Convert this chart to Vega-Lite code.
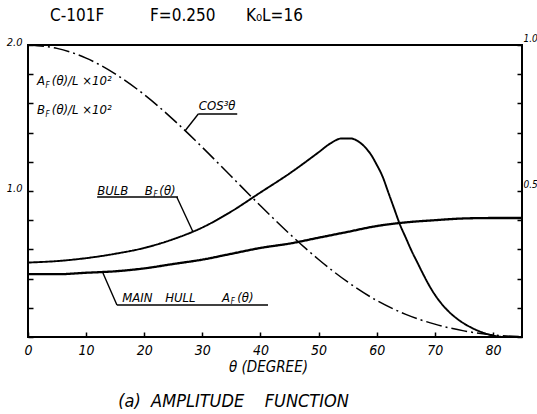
{
  "$schema": "https://vega.github.io/schema/vega-lite/v6.json",
  "width": 494,
  "height": 292,
  "autosize": {"type": "none"},
  "padding": {"left": 28, "top": 45, "right": 15, "bottom": 77},
  "background": "white",
  "config": {
    "view": {"stroke": "black", "strokeWidth": 2},
    "font": "DejaVu Sans Condensed"
  },
  "title": {
    "text": "(a)\u00a0\u00a0AMPLITUDE\u00a0\u00a0\u00a0\u00a0FUNCTION",
    "orient": "bottom",
    "anchor": "start",
    "dx": 112,
    "offset": 19,
    "font": "DejaVu Sans Condensed",
    "fontSize": 18,
    "fontStyle": "italic",
    "fontWeight": "normal",
    "color": "black"
  },
  "datasets": {
    "curves": [
      {"series": "cos", "theta": 0, "value": 2.0},
      {"series": "cos", "theta": 5, "value": 1.977},
      {"series": "cos", "theta": 10, "value": 1.91},
      {"series": "cos", "theta": 15, "value": 1.802},
      {"series": "cos", "theta": 20, "value": 1.66},
      {"series": "cos", "theta": 25, "value": 1.489},
      {"series": "cos", "theta": 30, "value": 1.299},
      {"series": "cos", "theta": 35, "value": 1.099},
      {"series": "cos", "theta": 40, "value": 0.899},
      {"series": "cos", "theta": 45, "value": 0.707},
      {"series": "cos", "theta": 50, "value": 0.531},
      {"series": "cos", "theta": 55, "value": 0.377},
      {"series": "cos", "theta": 60, "value": 0.25},
      {"series": "cos", "theta": 65, "value": 0.155},
      {"series": "cos", "theta": 70, "value": 0.088},
      {"series": "cos", "theta": 75, "value": 0.042},
      {"series": "cos", "theta": 80, "value": 0.014},
      {"series": "cos", "theta": 85, "value": 0.002},
      {"series": "bulb", "theta": 0, "value": 0.51},
      {"series": "bulb", "theta": 5, "value": 0.52},
      {"series": "bulb", "theta": 10, "value": 0.54},
      {"series": "bulb", "theta": 15, "value": 0.57},
      {"series": "bulb", "theta": 20, "value": 0.61},
      {"series": "bulb", "theta": 25, "value": 0.67},
      {"series": "bulb", "theta": 30, "value": 0.75},
      {"series": "bulb", "theta": 35, "value": 0.86},
      {"series": "bulb", "theta": 40, "value": 0.99},
      {"series": "bulb", "theta": 45, "value": 1.12},
      {"series": "bulb", "theta": 50, "value": 1.265},
      {"series": "bulb", "theta": 52, "value": 1.325},
      {"series": "bulb", "theta": 54, "value": 1.36},
      {"series": "bulb", "theta": 55.5, "value": 1.36},
      {"series": "bulb", "theta": 57, "value": 1.335},
      {"series": "bulb", "theta": 58, "value": 1.3},
      {"series": "bulb", "theta": 59, "value": 1.25},
      {"series": "bulb", "theta": 60, "value": 1.18},
      {"series": "bulb", "theta": 61, "value": 1.1},
      {"series": "bulb", "theta": 62, "value": 0.99},
      {"series": "bulb", "theta": 63, "value": 0.88},
      {"series": "bulb", "theta": 64, "value": 0.77},
      {"series": "bulb", "theta": 65, "value": 0.68},
      {"series": "bulb", "theta": 66, "value": 0.59},
      {"series": "bulb", "theta": 67, "value": 0.51},
      {"series": "bulb", "theta": 68, "value": 0.43},
      {"series": "bulb", "theta": 69, "value": 0.355},
      {"series": "bulb", "theta": 70, "value": 0.29},
      {"series": "bulb", "theta": 72, "value": 0.19},
      {"series": "bulb", "theta": 74, "value": 0.12},
      {"series": "bulb", "theta": 76, "value": 0.07},
      {"series": "bulb", "theta": 78, "value": 0.034},
      {"series": "bulb", "theta": 80, "value": 0.01},
      {"series": "bulb", "theta": 82, "value": 0.0},
      {"series": "bulb", "theta": 85, "value": 0.0},
      {"series": "hull", "theta": 0, "value": 0.43},
      {"series": "hull", "theta": 5, "value": 0.43},
      {"series": "hull", "theta": 10, "value": 0.44},
      {"series": "hull", "theta": 15, "value": 0.45},
      {"series": "hull", "theta": 20, "value": 0.47},
      {"series": "hull", "theta": 25, "value": 0.5},
      {"series": "hull", "theta": 30, "value": 0.53},
      {"series": "hull", "theta": 35, "value": 0.57},
      {"series": "hull", "theta": 40, "value": 0.61},
      {"series": "hull", "theta": 45, "value": 0.64},
      {"series": "hull", "theta": 50, "value": 0.68},
      {"series": "hull", "theta": 55, "value": 0.72},
      {"series": "hull", "theta": 60, "value": 0.76},
      {"series": "hull", "theta": 65, "value": 0.785},
      {"series": "hull", "theta": 70, "value": 0.8},
      {"series": "hull", "theta": 75, "value": 0.812},
      {"series": "hull", "theta": 80, "value": 0.815},
      {"series": "hull", "theta": 85, "value": 0.815}
    ],
    "leaders": [
      {"x": 29.3, "y": 1.527, "x2": 36.0, "y2": 1.527},
      {"x": 29.3, "y": 1.527, "x2": 27.0, "y2": 1.411},
      {"x": 11.9, "y": 0.959, "x2": 25.8, "y2": 0.959},
      {"x": 25.6, "y": 0.959, "x2": 28.4, "y2": 0.719},
      {"x": 12.9, "y": 0.438, "x2": 15.3, "y2": 0.219},
      {"x": 15.3, "y": 0.219, "x2": 41.3, "y2": 0.219}
    ],
    "labels": [
      {"x": 1.55, "y": 1.753, "text": "A", "role": "main"},
      {"x": 3.0, "y": 1.72, "text": "F", "role": "sub"},
      {"x": 4.1, "y": 1.753, "text": "(θ)/L ×10²", "role": "main"},
      {"x": 1.55, "y": 1.555, "text": "B", "role": "main"},
      {"x": 3.0, "y": 1.522, "text": "F", "role": "sub"},
      {"x": 4.1, "y": 1.555, "text": "(θ)/L ×10²", "role": "main"},
      {"x": 29.4, "y": 1.585, "text": "COS³θ", "role": "main"},
      {"x": 11.9, "y": 1.0, "text": "BULB", "role": "main"},
      {"x": 20.1, "y": 1.0, "text": "B", "role": "main"},
      {"x": 21.6, "y": 0.97, "text": "F", "role": "sub"},
      {"x": 22.6, "y": 1.0, "text": "(θ)", "role": "main"},
      {"x": 16.2, "y": 0.27, "text": "MAIN", "role": "main"},
      {"x": 23.6, "y": 0.27, "text": "HULL", "role": "main"},
      {"x": 33.4, "y": 0.27, "text": "A", "role": "main"},
      {"x": 34.9, "y": 0.24, "text": "F", "role": "sub"},
      {"x": 36.0, "y": 0.27, "text": "(θ)", "role": "main"}
    ],
    "heads": [
      {"x": 3.79, "y": 2.199, "text": "C-101F"},
      {"x": 21.0, "y": 2.199, "text": "F=0.250"},
      {"x": 37.5, "y": 2.199, "text": "K₀L=16"}
    ]
  },
  "layer": [
    {
      "data": {"name": "curves"},
      "mark": {"type": "line", "interpolate": "monotone", "color": "black"},
      "encoding": {
        "x": {
          "field": "theta",
          "type": "quantitative",
          "scale": {"domain": [0, 85], "nice": false, "zero": false},
          "axis": {
            "values": [0, 10, 20, 30, 40, 50, 60, 70, 80],
            "tickSize": -5,
            "tickColor": "black",
            "tickWidth": 1.5,
            "domain": false,
            "grid": false,
            "labelFont": "DejaVu Sans Condensed",
            "labelFontStyle": "italic",
            "labelFontSize": 14,
            "labelColor": "black",
            "labelPadding": 11,
            "labelFlush": false,
            "title": "θ (DEGREE)",
            "titleFont": "DejaVu Sans Condensed",
            "titleFontSize": 15,
            "titleFontWeight": "normal",
            "titleFontStyle": "italic",
            "titleColor": "black",
            "titleX": 240,
            "titlePadding": 2
          }
        },
        "y": {
          "field": "value",
          "type": "quantitative",
          "scale": {"domain": [0, 2], "nice": false},
          "axis": {
            "orient": "left",
            "values": [0, 0.2, 0.4, 0.6, 0.8, 1.0, 1.2, 1.4, 1.6, 1.8, 2.0],
            "labelExpr": "datum.value == 1 ? '1.0' : datum.value == 2 ? '2.0' : ''",
            "tickSize": -5,
            "tickColor": "black",
            "tickWidth": 1.5,
            "domain": false,
            "grid": false,
            "labelFont": "DejaVu Sans Condensed",
            "labelFontStyle": "italic",
            "labelFontSize": 11,
            "labelColor": "black",
            "labelPadding": 11,
            "labelOffset": -3,
            "labelFlush": false,
            "title": null
          }
        },
        "detail": {"field": "series"},
        "strokeDash": {
          "field": "series",
          "type": "nominal",
          "scale": {"domain": ["cos", "bulb", "hull"], "range": [[16, 4, 2, 4], [1, 0], [1, 0]]},
          "legend": null
        },
        "strokeWidth": {
          "field": "series",
          "type": "nominal",
          "scale": {"domain": ["cos", "bulb", "hull"], "range": [1.5, 2.3, 1.8]},
          "legend": null
        }
      }
    },
    {
      "data": {"name": "leaders"},
      "mark": {"type": "rule", "color": "black", "strokeWidth": 1.4},
      "encoding": {
        "x": {"field": "x", "type": "quantitative", "scale": {"domain": [0, 85], "nice": false, "zero": false}},
        "x2": {"field": "x2"},
        "y": {
          "field": "y",
          "type": "quantitative",
          "scale": {"domain": [0, 2], "nice": false},
          "axis": {
            "orient": "right",
            "values": [0, 0.2, 0.4, 0.6, 0.8, 1.0, 1.2, 1.4, 1.6, 1.8, 2.0],
            "labelExpr": "datum.value == 1 ? '0.5' : datum.value == 2 ? '1.0' : ''",
            "tickSize": -5,
            "tickColor": "black",
            "tickWidth": 1.5,
            "domain": false,
            "grid": false,
            "labelFont": "DejaVu Sans Condensed",
            "labelFontStyle": "italic",
            "labelFontSize": 10,
            "labelColor": "black",
            "labelPadding": 6,
            "labelOffset": -7,
            "labelFlush": false,
            "title": null
          }
        },
        "y2": {"field": "y2"}
      }
    },
    {
      "data": {"name": "labels"},
      "mark": {"type": "text", "align": "left", "baseline": "middle", "fontStyle": "italic", "font": "DejaVu Sans Condensed", "color": "black"},
      "encoding": {
        "x": {"field": "x", "type": "quantitative", "scale": {"domain": [0, 85], "nice": false, "zero": false}},
        "y": {"field": "y", "type": "quantitative", "scale": {"domain": [0, 2], "nice": false}, "axis": null},
        "text": {"field": "text"},
        "size": {"field": "role", "type": "nominal", "scale": {"domain": ["main", "sub"], "range": [13, 8]}, "legend": null}
      }
    },
    {
      "data": {"name": "heads"},
      "mark": {"type": "text", "align": "left", "baseline": "middle", "font": "DejaVu Sans Condensed", "fontSize": 17, "color": "black"},
      "encoding": {
        "x": {"field": "x", "type": "quantitative", "scale": {"domain": [0, 85], "nice": false, "zero": false}},
        "y": {"field": "y", "type": "quantitative", "scale": {"domain": [0, 2], "nice": false}, "axis": null},
        "text": {"field": "text"}
      }
    }
  ],
  "resolve": {"axis": {"y": "independent"}}
}
